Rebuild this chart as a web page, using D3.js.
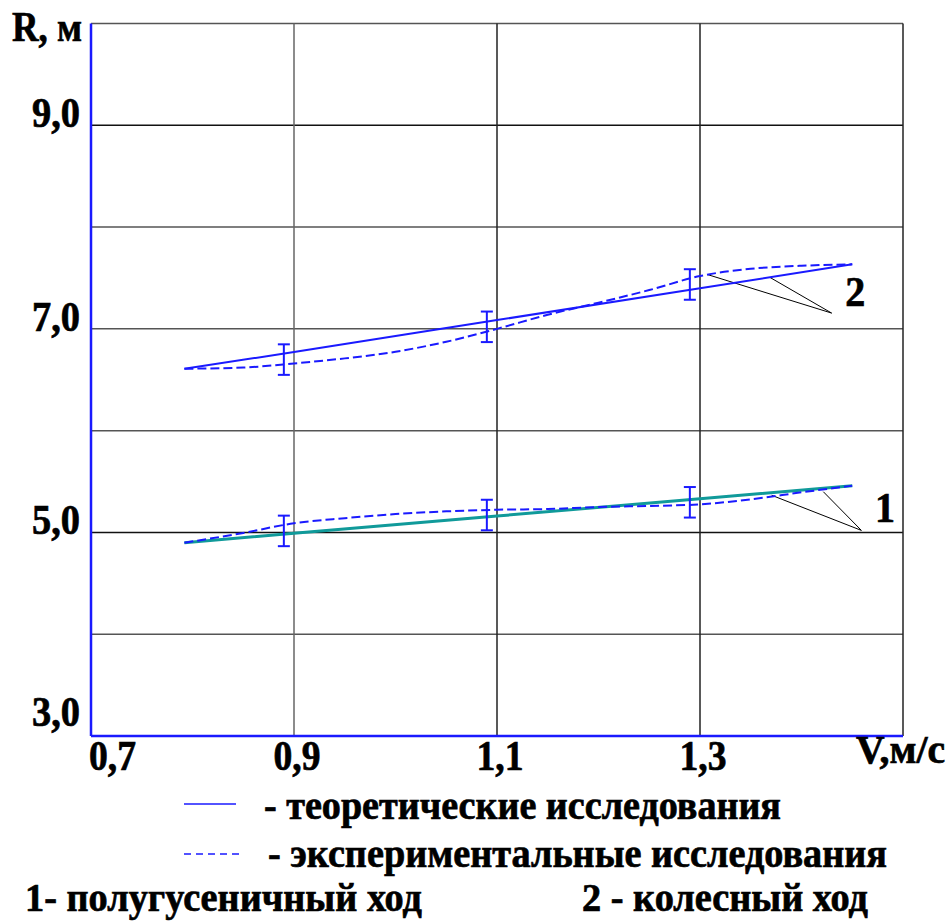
<!DOCTYPE html>
<html><head><meta charset="utf-8">
<script src="https://cdn.jsdelivr.net/npm/d3@7"></script>
<style>html,body{margin:0;padding:0;background:#fff;}svg{display:block;}
text{font-family:"Liberation Serif","Times New Roman",serif;font-weight:700;fill:#000;stroke:#000;stroke-width:0.7px;}</style>
</head><body>
<script>
// ---- data ----
const xTicks = [0.7, 0.9, 1.1, 1.3];
const xTickLabels = ["0,7", "0,9", "1,1", "1,3"];
const yTicks = [3, 5, 7, 9];
const yTickLabels = ["3,0", "5,0", "7,0", "9,0"];
const gridX = [0.9, 1.1, 1.3, 1.5];
const gridY = [4, 5, 6, 7, 8, 9, 10];

const vTheory = [0.792, 0.9, 1.1, 1.3, 1.45];
const theory1 = [4.899, 4.991, 5.161, 5.331, 5.459];
const theory2 = [6.608, 6.772, 7.086, 7.398, 7.634];

const vExp = [0.792, 0.85, 0.9, 0.95, 1.0, 1.05, 1.1, 1.15, 1.2, 1.25, 1.3, 1.35, 1.4, 1.45];
const exp1 = [4.899, 4.995, 5.09, 5.14, 5.18, 5.207, 5.223, 5.23, 5.25, 5.26, 5.276, 5.325, 5.394, 5.459];
const exp2 = [6.608, 6.62, 6.66, 6.71, 6.775, 6.873, 7.0, 7.139, 7.257, 7.381, 7.519, 7.59, 7.62, 7.634];

const vErr = [0.89, 1.09, 1.29];
const errCenter1 = [5.015, 5.171, 5.296];
const errCenter2 = [6.698, 7.02, 7.436];
const errHalf = 0.15;

// leader lines: [tip, point on theory, point on experiment]
const leader1 = [[1.459, 5.02], [1.3706, 5.365], [1.4215, 5.40]];
const leader2 = [[1.4297, 7.155], [1.369, 7.505], [1.3069, 7.535]];
const curveLabels = [{t: "1", v: 1.4725, r: 5.10}, {t: "2", v: 1.443, r: 7.225}];

const legendItems = [{text: "- теоретические исследования", dash: null},
                     {text: "- экспериментальные исследования", dash: "7,5"}];
const captions = ["1- полугусеничный ход", "2 - колесный ход"];

// ---- drawing ----
const W = 949, H = 921;
const BLUE = "#1a1aff", TEAL = "#109a9a";

const svg = d3.select("body").append("svg").attr("width", W).attr("height", H);

const x = d3.scaleLinear().domain([0.7, 1.5]).range([91, 903]);
const y = d3.scaleLinear().domain([3, 10]).range([736, 23.5]);

// grid
svg.append("g").selectAll("line").data(gridY).join("line")
  .attr("x1", x(0.7)).attr("x2", x(1.5)).attr("y1", d => y(d)).attr("y2", d => y(d))
  .attr("stroke", d => (d === 9 || d === 5) ? "#111" : "#555").attr("stroke-width", 1.5);
svg.append("g").selectAll("line").data(gridX).join("line")
  .attr("x1", d => x(d)).attr("x2", d => x(d)).attr("y1", y(3)).attr("y2", y(10))
  .attr("stroke", d => d === 0.9 ? "#666" : "#222").attr("stroke-width", 1.5);

// axes (blue)
svg.append("line").attr("x1", x(0.7)).attr("x2", x(0.7)).attr("y1", y(10)).attr("y2", y(3))
  .attr("stroke", BLUE).attr("stroke-width", 2.5);
svg.append("line").attr("x1", x(0.7)).attr("x2", x(1.5)).attr("y1", y(3)).attr("y2", y(3))
  .attr("stroke", BLUE).attr("stroke-width", 2.5);

// tick labels
svg.append("g").selectAll("text").data(yTicks).join("text")
  .attr("x", 80).attr("y", d => d === 3 ? y(3) - 10 : y(d) + 2)
  .attr("text-anchor", "end").attr("font-size", 42)
  .attr("textLength", 48).attr("lengthAdjust", "spacingAndGlyphs")
  .text((d, i) => yTickLabels[i]);
svg.append("g").selectAll("text").data(xTicks).join("text")
  .attr("x", d => d === 0.7 ? x(d) - 2 : x(d) + 3).attr("y", 770)
  .attr("text-anchor", d => d === 0.7 ? "start" : "middle").attr("font-size", 42)
  .attr("textLength", 47).attr("lengthAdjust", "spacingAndGlyphs")
  .text((d, i) => xTickLabels[i]);
svg.append("text").attr("x", 12).attr("y", 41).attr("font-size", 42)
  .attr("textLength", 70).attr("lengthAdjust", "spacingAndGlyphs").text("R, м");
svg.append("text").attr("x", 856).attr("y", 763).attr("font-size", 40)
  .attr("textLength", 89).attr("lengthAdjust", "spacingAndGlyphs").text("V,м/с");

// leader lines
const ll = d3.line().x(d => x(d[0])).y(d => y(d[1]));
[leader1, leader2].forEach(L => {
  svg.append("path").attr("d", ll([L[1], L[0], L[2]])).attr("fill", "none")
    .attr("stroke", "#000").attr("stroke-width", 1);
});
svg.append("g").selectAll("text").data(curveLabels).join("text")
  .attr("x", d => x(d.v)).attr("y", d => y(d.r)).attr("font-size", 42)
  .attr("textLength", 20).attr("lengthAdjust", "spacingAndGlyphs").text(d => d.t);

// curves
const lineT = d3.line().x((d, i) => x(vTheory[i])).y(d => y(d));
const lineE = d3.line().x((d, i) => x(vExp[i])).y(d => y(d)).curve(d3.curveMonotoneX);

svg.append("path").attr("d", lineT(theory1)).attr("fill", "none").attr("stroke", TEAL).attr("stroke-width", 3);
svg.append("path").attr("d", lineT(theory2)).attr("fill", "none").attr("stroke", BLUE).attr("stroke-width", 2);
svg.append("path").attr("d", lineE(exp1)).attr("fill", "none").attr("stroke", BLUE).attr("stroke-width", 2).attr("stroke-dasharray", "9,4");
svg.append("path").attr("d", lineE(exp2)).attr("fill", "none").attr("stroke", BLUE).attr("stroke-width", 2).attr("stroke-dasharray", "9,4");

// error bars
[errCenter1, errCenter2].forEach(C => {
  const g = svg.append("g").attr("stroke", BLUE).attr("stroke-width", 2);
  vErr.forEach((v, i) => {
    const cx = x(v), yt = y(C[i] + errHalf), yb = y(C[i] - errHalf);
    g.append("line").attr("x1", cx).attr("x2", cx).attr("y1", yt).attr("y2", yb);
    g.append("line").attr("x1", cx - 6).attr("x2", cx + 6).attr("y1", yt).attr("y2", yt);
    g.append("line").attr("x1", cx - 6).attr("x2", cx + 6).attr("y1", yb).attr("y2", yb);
  });
});

// legend
const legY = [804, 854];
const legTextY = [819, 867];
const legTextX = [264, 268];
const legTextW = [517, 619];
legendItems.forEach((it, i) => {
  svg.append("line").attr("x1", 184).attr("x2", it.dash ? 239 : 236).attr("y1", legY[i]).attr("y2", legY[i])
    .attr("stroke", BLUE).attr("stroke-width", 1.5).attr("stroke-dasharray", it.dash);
  svg.append("text").attr("x", legTextX[i]).attr("y", legTextY[i]).attr("font-size", 40)
    .attr("textLength", legTextW[i]).attr("lengthAdjust", "spacingAndGlyphs").text(it.text);
});
svg.append("text").attr("x", 25).attr("y", 911).attr("font-size", 39)
  .attr("textLength", 397).attr("lengthAdjust", "spacingAndGlyphs").text(captions[0]);
svg.append("text").attr("x", 582).attr("y", 911).attr("font-size", 39)
  .attr("textLength", 286).attr("lengthAdjust", "spacingAndGlyphs").text(captions[1]);
</script>
</body></html>
